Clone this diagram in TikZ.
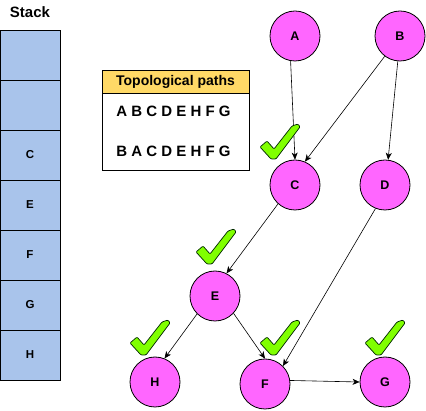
\documentclass[tikz,border=0pt]{standalone}
\usepackage{fontspec}
\setmainfont{Liberation Sans}
\usetikzlibrary{positioning,arrows.meta}
\definecolor{vertexpink}{HTML}{FF66FF}
\definecolor{stackblue}{HTML}{A9C4EB}
\definecolor{headgold}{HTML}{FFD966}
\definecolor{tickgreen}{HTML}{80FF00}

\begin{document}
\begin{tikzpicture}[x=1pt,y=-1pt,
    vertex/.style={circle,draw,fill=vertexpink,line width=0.8pt,minimum size=50pt,inner sep=0pt,font=\bfseries\fontsize{12.5}{14}\selectfont},
    cell/.style={rectangle,draw,fill=stackblue,line width=0.8pt,minimum width=60pt,minimum height=50pt,outer sep=0pt,font=\bfseries\fontsize{11.5}{13}\selectfont},
    edge/.style={line width=0.6pt,-{Stealth[length=7pt,width=6pt,inset=2pt]}},
    tick/.pic={
        \filldraw[fill=tickgreen,draw=black!85!green,line width=0.7pt,rounded corners=1pt]
        (0,23)--(7,17)--(14,25)--(32,2)--(38,0)--(40,3)--(16,35)--(11,35)--cycle;
    }]
    \useasboundingbox (0,0) rectangle (426,411);

    % stack
    \node[font=\bfseries\fontsize{15}{17}\selectfont] at (30,12)(st) {Stack};
    \foreach \lbl [count=\i from 0] in {{},{},C,E,F,G,H}
    {
        \node[cell] at (30,{55+50*\i})(s\i) {\lbl};
    }

    % topological paths
    \node[draw,fill=white,line width=0.8pt,minimum width=147pt,minimum height=77pt,outer sep=0pt] at (175.5,131.5)(tp) {};
    \node[draw,fill=headgold,line width=0.8pt,minimum width=147pt,minimum height=22.5pt,outer sep=0pt,font=\bfseries\fontsize{14}{16}\selectfont] at (175.5,82)(th) {Topological paths};
    \node[font=\bfseries\fontsize{15}{17}\selectfont] at (173.5,111)(p1) {A B C D E H F G};
    \node[font=\bfseries\fontsize{15}{17}\selectfont] at (173.5,151)(p2) {B A C D E H F G};

    % graph
    \node[vertex] at (295,36)(a) {A};
    \node[vertex] at (400,36)(b) {B};
    \node[vertex] at (295,185)(c) {C};
    \node[vertex] at (385,185)(d) {D};
    \node[vertex] at (215,296)(e) {E};
    \node[vertex] at (155,382)(h) {H};
    \node[vertex] at (265,384)(f) {F};
    \node[vertex] at (385,382)(g) {G};

    \draw[edge] (a.260) -- (c.90);
    \draw[edge] (b.233) -- (c.67);
    \draw[edge] (b.265) -- (d.83);
    \draw[edge] (c.228) -- (e.63);
    \draw[edge] (d.248) -- (f.45);
    \draw[edge] (e.225) -- (h.68);
    \draw[edge] (e.317) -- (f.90);
    \draw[edge] (f.8) -- (g.180);

    % visited marks
    \pic at (260,124) {tick};
    \pic at (196,229) {tick};
    \pic at (130,320) {tick};
    \pic at (260,320) {tick};
    \pic at (365,320) {tick};

\end{tikzpicture}
\end{document}
